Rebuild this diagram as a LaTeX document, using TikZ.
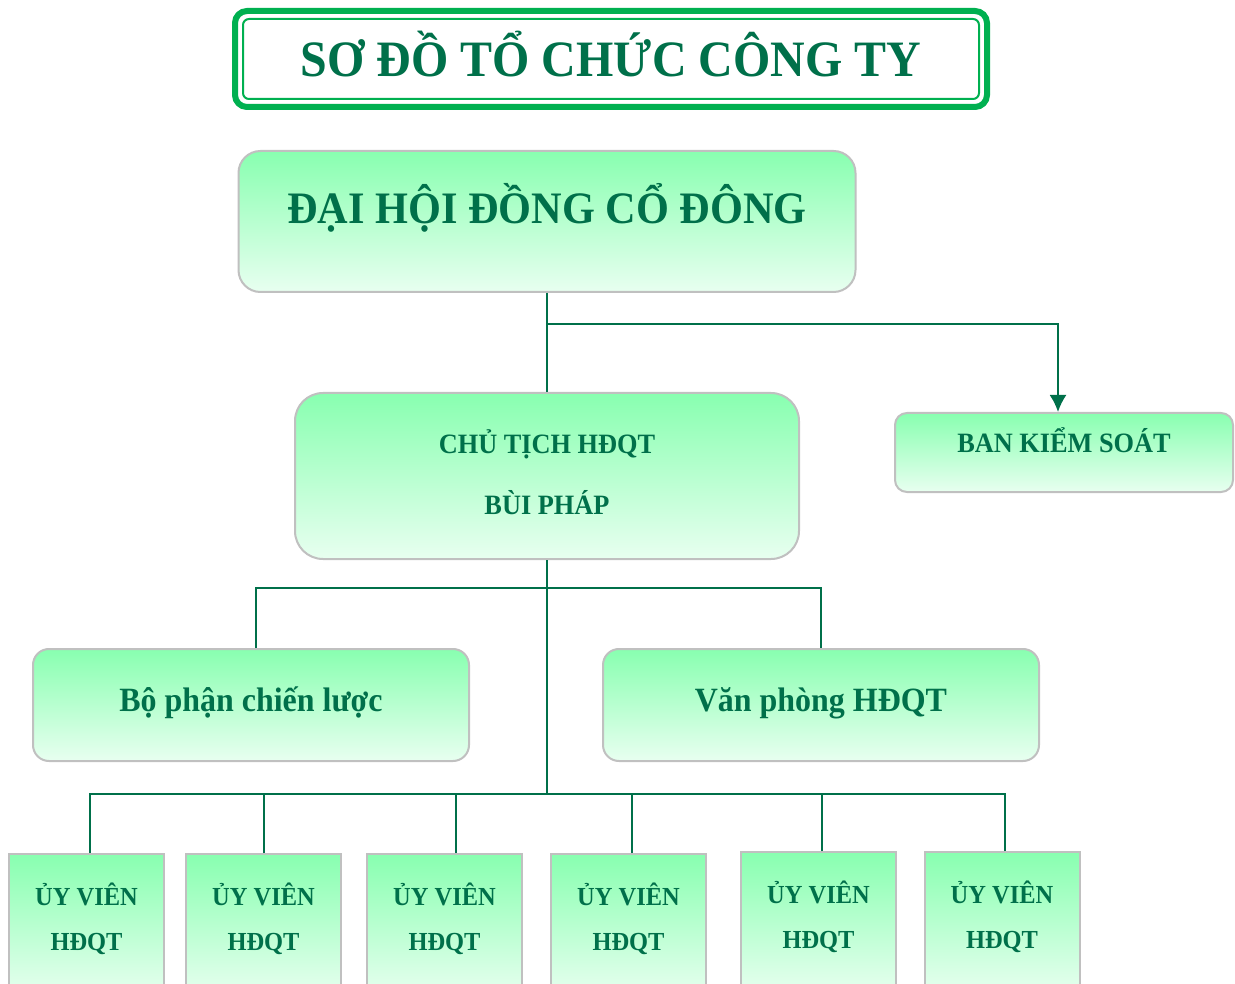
\documentclass[tikz,border=0pt]{standalone}
\usepackage{fontspec}
\setmainfont{Liberation Serif}[FakeStretch=0.94]
\usepackage{xcolor}
\usepackage{tikz}
\usetikzlibrary{arrows.meta,calc,positioning}
\definecolor{ink}{HTML}{00704A}
\definecolor{framegreen}{HTML}{00B050}
\definecolor{minttop}{HTML}{88FFB0}
\definecolor{mintbottom}{HTML}{E8FFF0}
\definecolor{edge}{HTML}{C0C0C0}
\tikzset{
  link/.style={draw=ink,line width=2pt},
  arrowlink/.style={link,-{Latex[length=17pt,width=17pt]}},
  box/.style={draw=edge,line width=2pt,top color=minttop,bottom color=mintbottom,
              anchor=north,inner ysep=0pt,align=center,text=ink,font=\bfseries},
  unit/.style={box,rounded corners=#1},
  member/.style={box,minimum width=155pt,text height=96pt,text depth=47pt,
                 font=\bfseries\fontsize{26}{45}\selectfont},
  titlebox/.style={draw=framegreen,line width=6pt,rounded corners=12pt,anchor=north,
                   inner ysep=0pt,text=ink,font=\bfseries\fontsize{51}{60}\selectfont},
  titleline/.style={draw=framegreen,line width=2pt,rounded corners=6pt}
}
\begin{document}
\begin{tikzpicture}[x=1pt,y=-1pt]
  \path[use as bounding box,fill=white] (0,0) rectangle (1235,984);
  \clip (0,0) rectangle (1235,984);
  \node[titlebox,minimum width=752pt,text height=66pt,text depth=30pt] (title) at (611,8) {SƠ ĐỒ TỔ CHỨC CÔNG TY};
  \draw[titleline] ([shift={(11pt,-11pt)}]title.north west) rectangle ([shift={(-11pt,11pt)}]title.south east);
  \node[unit=22pt,minimum width=617pt,text height=73pt,text depth=68pt,
        font=\bfseries\fontsize{45}{54}\selectfont] (dh) at (547,150) {ĐẠI HỘI ĐỒNG CỔ ĐÔNG};
  \node[unit=28pt,minimum width=504pt,text height=121pt,text depth=45pt,
        font=\bfseries\fontsize{28}{61}\selectfont] (ct) at (547,392) {CHỦ TỊCH HĐQT\\BÙI PHÁP};
  \node[unit=12pt,minimum width=338pt,text height=39pt,text depth=40pt,
        font=\bfseries\fontsize{28}{34}\selectfont] (bks) at (1064,412) {BAN KIỂM SOÁT};
  \node[unit=16pt,minimum width=436pt,text height=62pt,text depth=50pt,
        font=\bfseries\fontsize{34}{40}\selectfont] (bp) at (251,648) {Bộ phận chiến lược};
  \node[unit=16pt,minimum width=436pt,text height=62pt,text depth=50pt,
        font=\bfseries\fontsize{34}{40}\selectfont] (vp) at (821,648) {Văn phòng HĐQT};
  \foreach \i/\x/\y in {1/86.5/853,2/263.5/853,3/444.5/853,4/628.5/853,5/818.5/851,6/1002/851}{
    \node[member] (uv\i) at (\x,\y) {ỦY VIÊN\\HĐQT};
  }
  \coordinate (fork) at ($(dh.south)+(0,31)$);
  \coordinate (mid) at ($(ct.south)+(0,28)$);
  \coordinate (bus) at ($(ct.south)+(0,234)$);
  \draw[link] (dh.south) -- (ct.north);
  \draw[arrowlink] (fork) -| ([xshift=-6pt]bks.north);
  \draw[link] (ct.south) -- (bus);
  \draw[link] ([xshift=5pt]bp.north) |- (mid) -| (vp.north);
  \foreach \i/\dx in {1/3.5,2/0.5,3/11.5,4/3.5,5/3.5,6/3}{
    \draw[link] ([xshift=\dx]uv\i.north) |- (bus);
  }
\end{tikzpicture}
\end{document}
